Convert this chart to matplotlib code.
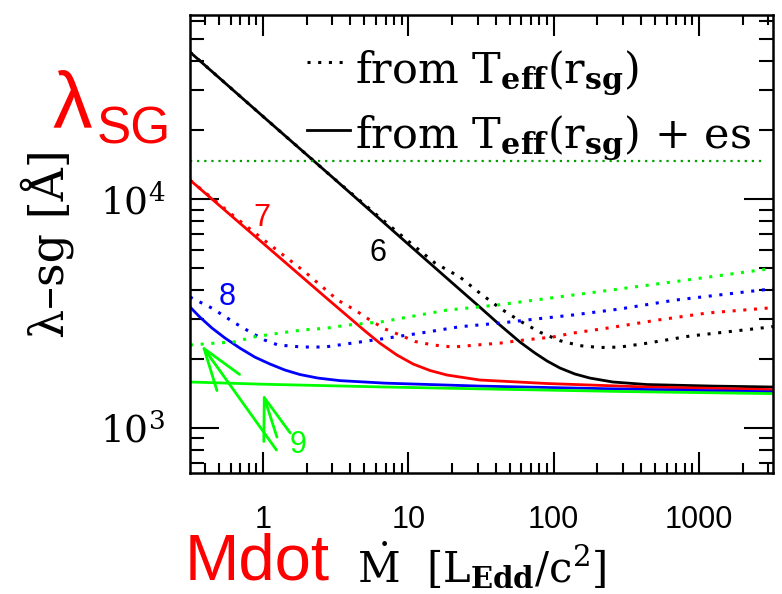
import matplotlib
matplotlib.use("Agg")
import matplotlib.pyplot as plt
from matplotlib.ticker import LogLocator, NullFormatter

plt.rcParams["font.family"] = ["DejaVu Serif"]
plt.rcParams["mathtext.fontset"] = "dejavuserif"

# accretion rate [L_Edd/c^2] and lambda_sg [A] for log M = 6..9
# *_es = from Teff(r_sg) + es (solid), plain = from Teff(r_sg) (dotted)
x6_es = [0.315, 1, 3, 10, 20, 31.1, 42.8, 58.7, 74.5, 90.1, 110.7, 140.3, 178, 256, 438, 1250, 3240]
y6_es = [43900, 23000, 12480, 6350, 4310, 3370, 2812, 2371, 2122, 1960, 1825, 1718, 1649, 1585, 1545, 1521, 1507]
x6 = [0.315, 1, 3, 6.38, 10, 15.3, 22.7, 31.1, 42.8, 58.7, 80.6, 110.7, 152, 208, 286, 425, 869, 3060, 3240]
y6 = [43900, 23000, 12480, 8300, 6550, 5250, 4560, 3880, 3334, 2930, 2618, 2403, 2285, 2243, 2253, 2334, 2518, 2754, 2770]

x7_es = [0.315, 0.953, 2.89, 5.04, 6.38, 8.36, 10.8, 14.1, 18.5, 31.1, 90.1, 438, 3060, 3240]
y7_es = [12110, 6590, 3583, 2650, 2344, 2080, 1900, 1780, 1700, 1617, 1561, 1507, 1469, 1468]
x7 = [0.315, 0.642, 1.08, 1.95, 3.28, 4.30, 5.45, 6.91, 8.8, 11.1, 14.8, 20.3, 29.7, 42.8, 61.6,
      99, 136, 237, 522, 1150, 2970, 3240]
y7 = [12110, 8340, 6425, 4796, 3612, 3273, 2958, 2704, 2543, 2384, 2301, 2254, 2301, 2344, 2416,
      2493, 2594, 2730, 2958, 3176, 3336, 3350]

x8_es = [0.315, 0.368, 0.446, 0.548, 0.695, 0.881, 1.117, 1.417, 1.797, 2.39, 3.39, 6.91, 31.1, 300, 3060, 3240]
y8_es = [3373, 3048, 2729, 2468, 2229, 2036, 1900, 1788, 1709, 1649, 1607, 1567, 1521, 1476, 1436, 1435]
x8 = [0.315, 0.446, 0.642, 0.84, 1.03, 1.27, 1.86, 2.67, 4.10, 6.38, 12.0, 22.7, 44.9, 80.6, 136, 286,
      685, 2690, 3240]
y8 = [3728, 3334, 2871, 2594, 2416, 2301, 2254, 2254, 2344, 2439, 2590, 2766, 2878, 3002, 3112, 3306,
      3615, 4000, 4050]

x9_es = [0.315, 1, 6.9, 30, 300, 3240]
y9_es = [1585, 1550, 1507, 1480, 1440, 1410]
x9 = [0.315, 0.443, 0.642, 0.881, 1.27, 1.85, 2.68, 3.86, 6.55, 18.3, 40.4, 136, 685, 2690, 3240]
y9 = [2300, 2338, 2376, 2500, 2587, 2675, 2721, 2813, 2905, 3265, 3437, 3803, 4355, 4900, 4980]

# horizontal reference level
x_ref = [0.315, 2760]
y_ref = [14650, 14650]

mass_labels = ["6", "7", "8", "9"]
colors = ["black", "red", "blue", "#00ff00"]

fig = plt.figure(figsize=(7.82, 5.94), dpi=100)
ax = fig.add_axes([190 / 782, 121 / 594, 583 / 782, 458 / 594])

dot = (0, (1, 2.5))
curves = [(x6_es, y6_es, x6, y6), (x7_es, y7_es, x7, y7),
          (x8_es, y8_es, x8, y8), (x9_es, y9_es, x9, y9)]
for (xs, ys, xd, yd), c in zip(curves, colors):
    ax.plot(xd, yd, color=c, lw=2.2, linestyle=dot)
    ax.plot(xs, ys, color=c, lw=2.0)

ax.plot(x_ref, y_ref, color="#00a000", lw=1.6, linestyle=(0, (1, 2.2)))

ax.set_xscale("log")
ax.set_yscale("log")
ax.set_xlim(0.315, 3240)
ax.set_ylim(634, 63800)

ax.set_xticks([1, 10, 100, 1000])
ax.set_xticklabels(["1", "10", "100", "1000"], family="Liberation Sans", fontsize=22)
ax.set_yticks([1e3, 1e4])
ax.set_yticklabels([r"$10^3$", r"$10^4$"], fontsize=27)
ax.xaxis.set_minor_locator(LogLocator(base=10, subs=range(2, 10), numticks=20))
ax.yaxis.set_minor_locator(LogLocator(base=10, subs=range(2, 10), numticks=20))
ax.xaxis.set_minor_formatter(NullFormatter())
ax.yaxis.set_minor_formatter(NullFormatter())

ax.tick_params(which="both", direction="in", top=True, right=True, width=1.5, color="black")
ax.tick_params(axis="x", which="major", length=15, pad=23)
ax.tick_params(axis="x", which="minor", length=7)
ax.tick_params(axis="y", which="major", length=21, pad=18)
ax.tick_params(axis="y", which="minor", length=10)
for s in ax.spines.values():
    s.set_linewidth(1.8)

ax.set_xlabel(r"$\dot{\rm M}$  [L$_{\bf Edd}$/c$^2$]", fontsize=30)
ax.xaxis.set_label_coords(0.5, -0.148)
ax.set_ylabel("λ–sg [Å]", fontsize=33)
ax.yaxis.set_label_coords(-0.199, 0.5)

# legend drawn by hand
ax.plot([0.2007, 0.2624], [0.897, 0.897], transform=ax.transAxes, color="black", lw=2.2, linestyle=dot)
ax.plot([0.2007, 0.2744], [0.749, 0.749], transform=ax.transAxes, color="black", lw=2.0)
ax.text(0.283, 0.8537, r"from T$_{\bf eff}$(r$_{\bf sg}$)", transform=ax.transAxes,
        fontsize=31, va="baseline")
ax.text(0.283, 0.7118, r"from T$_{\bf eff}$(r$_{\bf sg}$) + es", transform=ax.transAxes,
        fontsize=31, va="baseline")

# curve labels
label_pos = [(0.3225, 0.4803), (0.1235, 0.557), (0.0635, 0.3843), (0.1852, 0.0611)]
for lab, (lx, ly), c in zip(mass_labels, label_pos, colors):
    ax.text(lx, ly, lab, transform=ax.transAxes, color=c, fontsize=22,
            family="Liberation Sans", ha="center", va="center")

arrow = dict(arrowstyle="->,head_length=1.5,head_width=0.5", color="#00ff00", lw=2.0,
             mutation_scale=20, shrinkA=0, shrinkB=0)
ax.annotate("", xy=(0.378, 2300), xytext=(1.24, 799), arrowprops=arrow)
ax.annotate("", xy=(1.0, 1413), xytext=(1.25, 910), arrowprops=arrow)

# big red annotations
fig.text(52 / 782, 1 - 127 / 594, "λ", color="red", fontsize=57, family="Liberation Sans",
         ha="left", va="baseline")
fig.text(97 / 782, 1 - 143 / 594, "SG", color="red", fontsize=37, family="Liberation Sans",
         ha="left", va="baseline")
fig.text(185 / 782, 1 - 580 / 594, "Mdot", color="red", fontsize=47, family="Liberation Sans",
         ha="left", va="baseline")

fig.savefig("out.png", dpi=100, facecolor="white")
